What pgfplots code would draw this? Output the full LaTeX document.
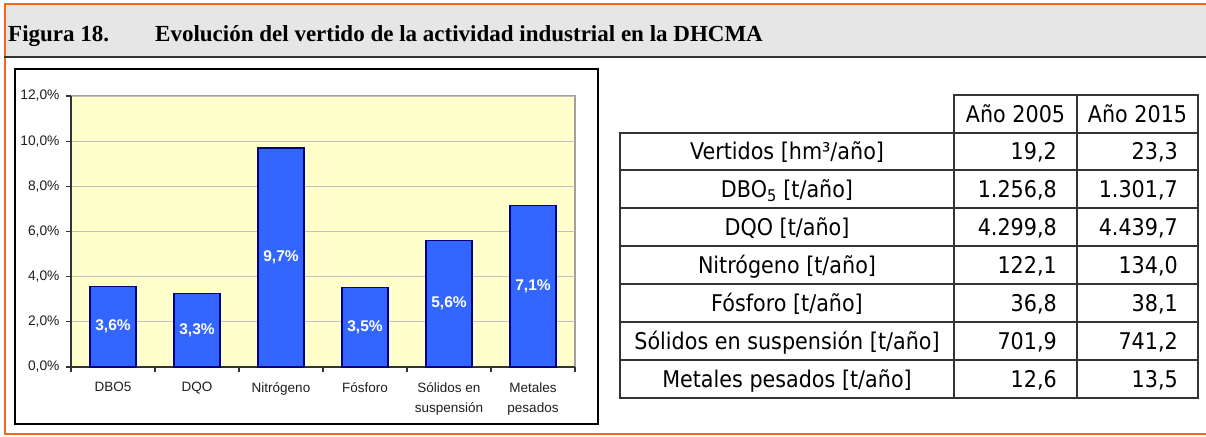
\documentclass[border=0pt]{standalone}
\usepackage{pgfplots}
\pgfplotsset{compat=1.18}
\usepackage{pgfplotstable}
\usepackage{fontspec}
\setmainfont{Liberation Sans}
\newfontfamily\serifb{Liberation Serif}
\newfontfamily\tabfont{DejaVu Sans}[FakeStretch=0.9]

\definecolor{orng}{RGB}{242,106,27}
\definecolor{hdr}{RGB}{230,230,230}
\definecolor{darkline}{RGB}{51,51,51}
\definecolor{plotbg}{RGB}{255,255,204}
\definecolor{barfill}{RGB}{51,102,255}
\definecolor{baredge}{RGB}{0,0,128}
\definecolor{gridgray}{RGB}{192,192,192}
\definecolor{framegray}{RGB}{160,160,160}
\definecolor{txt}{RGB}{30,30,30}

\pgfplotstableread{
x v
0 3.57
1 3.26
2 9.70
3 3.53
4 5.60
5 7.14
}\datatab

\begin{document}
\begin{tikzpicture}
\path[use as bounding box] (0pt,0pt) rectangle (1206pt,-436pt);
% header band
\fill[hdr] (6pt,-5pt) rectangle (1206pt,-56pt);
\draw[orng, line width=2pt] (1206pt,-4.5pt) -- (5pt,-4.5pt) -- (5pt,-434pt) -- (1206pt,-434pt);
\draw[darkline, line width=2.5pt] (4pt,-57pt) -- (1206pt,-57pt);
\node[anchor=base west, inner sep=0pt, font=\serifb\bfseries\fontsize{23}{27}\selectfont] at (8pt,-41.5pt) {Figura 18.};
\node[anchor=base west, inner sep=0pt, font=\serifb\bfseries\fontsize{23}{27}\selectfont] at (155pt,-41.5pt) {Evolución del vertido de la actividad industrial en la DHCMA};
% chart box
\draw[black, line width=2pt] (15pt,-69pt) rectangle (598pt,-424pt);
\begin{axis}[
  at={(71pt,-367pt)}, anchor=south west,
  scale only axis, width=504pt, height=271pt,
  xmin=-0.5, xmax=5.5, ymin=0, ymax=12,
  axis background/.style={fill=plotbg, draw=framegray, line width=1.5pt},
  axis x line*=bottom, axis y line*=left,
  x axis line style={-, darkline, line width=1.6pt},
  y axis line style={-, darkline, line width=1.6pt},
  tick align=outside, major tick length=5pt,
  tick style={darkline, line width=1.2pt},
  ytick={0,2,...,12},
  yticklabel={\pgfmathprintnumber[fixed,fixed zerofill,precision=1,use comma,assume math mode=true]{\tick}\%},
  yticklabel style={font=\fontsize{13.8}{15}\selectfont, text=txt, xshift=-3pt},
  ymajorgrids, grid style={gridgray, line width=1pt},
  xtick={-0.5,0.5,...,5.5}, xticklabels={},
  extra x ticks={0,1,2,3,4,5},
  extra x tick labels={DBO5, DQO, Nitrógeno, Fósforo, {Sólidos en\\suspensión}, {Metales\\pesados}},
  extra x tick style={major tick length=0pt, xmajorgrids=false},
  xticklabel style={font=\fontsize{13.5}{20}\selectfont, text=txt, align=center, yshift=-12pt},
  clip=false,
]
\addplot[ybar, bar width=46pt, fill=barfill, draw=baredge, line width=1.2pt] table[x=x, y=v] {\datatab};
\addplot[draw=none, mark=none,
  nodes near coords={\pgfmathprintnumber[fixed,fixed zerofill,precision=1,use comma,assume math mode=true]{\pgfplotspointmeta}\%},
  point meta=explicit,
  every node near coord/.append style={anchor=center, text=white, font=\bfseries\fontsize{15.5}{18}\selectfont}]
  table[x=x, y expr=\thisrow{v}/2, meta=v] {\datatab};
\end{axis}
% table
\def\lw{2pt}
\draw[darkline, line width=\lw] (954pt,-95pt) rectangle (1198pt,-132.5pt);
\draw[darkline, line width=\lw] (1077pt,-95pt) -- (1077pt,-132.5pt);
\draw[darkline, line width=\lw] (620pt,-132.5pt) rectangle (1198pt,-398pt);
\foreach \r in {1,...,6} {
  \draw[darkline, line width=\lw] (620pt,{-132.5pt-\r*37.93pt}) -- (1198pt,{-132.5pt-\r*37.93pt});
}
\draw[darkline, line width=\lw] (954pt,-132.5pt) -- (954pt,-398pt);
\draw[darkline, line width=\lw] (1077pt,-132.5pt) -- (1077pt,-398pt);
\begin{scope}[every node/.style={inner sep=0pt, font=\tabfont\fontsize{23}{26}\selectfont, text=black}]
\node[anchor=base] at (1015.5pt,-122pt) {Año 2005};
\node[anchor=base] at (1137.5pt,-122pt) {Año 2015};
\node[anchor=base] at (787pt,-159.5pt) {Vertidos [hm³/año]};
\node[anchor=base east] at (1057pt,-159.5pt) {19,2};
\node[anchor=base east] at (1178pt,-159.5pt) {23,3};
\node[anchor=base] at (787pt,-197.4pt) {DBO\textsubscript{5} [t/año]};
\node[anchor=base east] at (1057pt,-197.4pt) {1.256,8};
\node[anchor=base east] at (1178pt,-197.4pt) {1.301,7};
\node[anchor=base] at (787pt,-235.4pt) {DQO [t/año]};
\node[anchor=base east] at (1057pt,-235.4pt) {4.299,8};
\node[anchor=base east] at (1178pt,-235.4pt) {4.439,7};
\node[anchor=base] at (787pt,-273.3pt) {Nitrógeno [t/año]};
\node[anchor=base east] at (1057pt,-273.3pt) {122,1};
\node[anchor=base east] at (1178pt,-273.3pt) {134,0};
\node[anchor=base] at (787pt,-311.2pt) {Fósforo [t/año]};
\node[anchor=base east] at (1057pt,-311.2pt) {36,8};
\node[anchor=base east] at (1178pt,-311.2pt) {38,1};
\node[anchor=base] at (787pt,-349.1pt) {Sólidos en suspensión [t/año]};
\node[anchor=base east] at (1057pt,-349.1pt) {701,9};
\node[anchor=base east] at (1178pt,-349.1pt) {741,2};
\node[anchor=base] at (787pt,-387.0pt) {Metales pesados [t/año]};
\node[anchor=base east] at (1057pt,-387.0pt) {12,6};
\node[anchor=base east] at (1178pt,-387.0pt) {13,5};
\end{scope}
\end{tikzpicture}
\end{document}
